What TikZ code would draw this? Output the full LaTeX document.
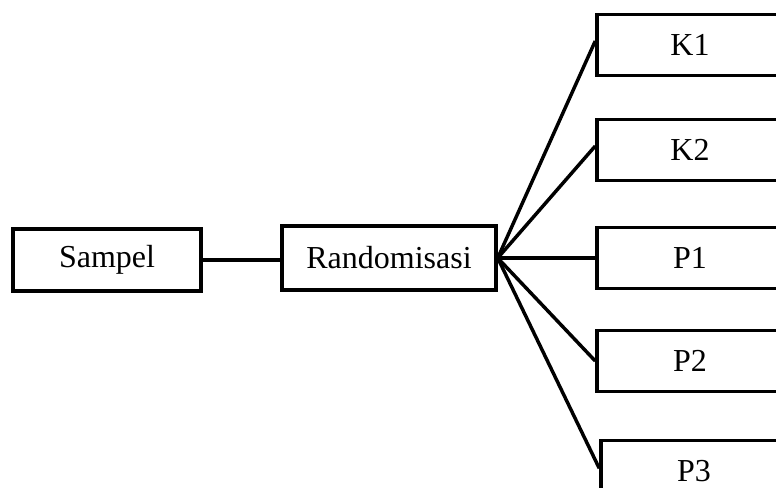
\documentclass[tikz,border=0pt]{standalone}
\usepackage{fontspec}
\setmainfont{Liberation Serif}
\usetikzlibrary{positioning}

\begin{document}
\begin{tikzpicture}[x=0.75pt,y=-0.75pt,
        box/.style={draw, line width=2.6pt, minimum width=141pt, minimum height=46.5pt, inner sep=0pt, font=\fontsize{24}{28}\selectfont},
        gruppo/.style={box, minimum width=139.5pt, minimum height=46pt},
        link/.style={line width=2.6pt}]
        \useasboundingbox (0,0) rectangle (776,487);
        \clip (0,0) rectangle (776,487);
        %disegno riquadri
        \node[box] (sampel) at (107,260) {Sampel};
        \node[box, minimum width=160.5pt, minimum height=48pt] (rand) at (389,258) {Randomisasi};
        %gruppi
        \node[gruppo] (k1) at (690,45) {K1};
        \node[gruppo] (k2) at (690,150) {K2};
        \node[gruppo] (p1) at (690,258) {P1};
        \node[gruppo] (p2) at (690,361) {P2};
        \node[gruppo] (p3) at (694,471) {P3};
        %collegamenti
        \draw[link] (sampel.east) -- (sampel.east -| rand.west);
        \draw[link] (rand.east) -- ([yshift=3pt]k1.west);
        \draw[link] (rand.east) -- ([yshift=3pt]k2.west);
        \draw[link] (rand.east) -- (p1.west);
        \draw[link] (rand.east) -- (p2.west);
        \draw[link] (rand.east) -- ([yshift=2pt]p3.west);
\end{tikzpicture}
\end{document}
